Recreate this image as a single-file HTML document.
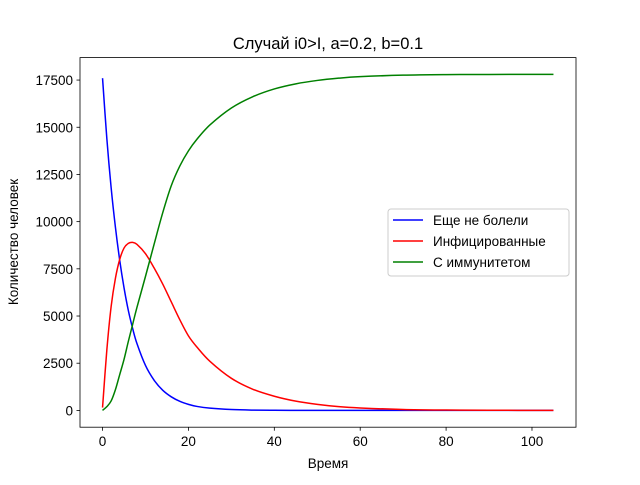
<!DOCTYPE html>
<html><head><meta charset="utf-8"><style>
body{margin:0;background:#fff}
svg{font-family:"Liberation Sans","DejaVu Sans",sans-serif}
</style></head><body>
<svg id="chart" width="640" height="480" viewBox="0 0 640 480">
<rect width="640" height="480" fill="#fff"/>
<text x="328" y="49" font-size="16.5" text-anchor="middle">Случай i0&gt;I, a=0.2, b=0.1</text>
<g id="series"></g>
<rect x="80" y="57.6" width="496" height="369.6" fill="none" stroke="#000" stroke-width="0.8"/>
<g id="xticks"></g><g id="yticks"></g>
<text x="328" y="468" font-size="13.5" text-anchor="middle">Время</text>
<text x="18" y="242" font-size="13.5" text-anchor="middle" transform="rotate(-90 18 242)">Количество человек</text>
<g>
<rect x="388" y="209" width="181" height="67" rx="3" fill="#fff" fill-opacity="0.8" stroke="#ccc"/>
<g><line x1="393" y1="220" x2="423" y2="220" stroke="blue" stroke-width="1.5"/><text x="433" y="225" font-size="13.5">Еще не болели</text></g>
<g><line x1="393" y1="241" x2="423" y2="241" stroke="red" stroke-width="1.5"/><text x="433" y="246" font-size="13.5">Инфицированные</text></g>
<g><line x1="393" y1="262" x2="423" y2="262" stroke="green" stroke-width="1.5"/><text x="433" y="267" font-size="13.5">С иммунитетом</text></g>
</g>
</svg>
<script>
const times=[0,1,2,3,4,5,6,7,8,10,12,14,16,18,20,22,25,30,35,40,45,50,55,60,70,80,90,105];
const susceptible=[17600,14400,11800,9700,7950,6500,5300,4350,3550,2380,1600,1070,720,480,320,210,120,45,15,5,2,0,0,0,0,0,0,0];
const infected=[150,3200,5500,7000,8000,8600,8850,8900,8800,8300,7550,6700,5750,4800,3950,3350,2600,1700,1120,750,490,320,200,130,50,20,8,0];
const recovered=[0,200,500,1100,1900,2700,3650,4550,5450,7100,8800,10460,11900,12950,13750,14370,15120,16020,16620,17030,17300,17480,17600,17680,17760,17790,17798,17800];
const xTicks=[0,20,40,60,80,100];
const yTicks=[0,2500,5000,7500,10000,12500,15000,17500];
const NS='http://www.w3.org/2000/svg';
function X(t){return 80+(t+5.25)*496/115.5;}
function Y(v){return 427.2-(v+890)*369.6/19580;}
function mk(tag,attrs,parent){const e=document.createElementNS(NS,tag);for(const k in attrs)e.setAttribute(k,attrs[k]);parent.appendChild(e);return e;}
const xt=document.getElementById('xticks'),yt=document.getElementById('yticks'),sg=document.getElementById('series');
xTicks.forEach(t=>{
 const l=mk('line',{x1:X(t),x2:X(t),y1:427.2,y2:430.7,stroke:'#000','stroke-width':0.8},xt);
 
 
 const s=mk('text',{x:X(t),y:446,'font-size':13.5,'text-anchor':'middle'},xt);s.textContent=t;
 
 
});
yTicks.forEach(v=>{
 const l=mk('line',{x1:76.5,x2:80,y1:Y(v),y2:Y(v),stroke:'#000','stroke-width':0.8},yt);
 
 
 const s=mk('text',{x:73,y:Y(v)+5,'font-size':13.5,'text-anchor':'end'},yt);s.textContent=v;
 
 
});
function path(vals,color,name){
 const p=times.map((t,i)=>[X(t),Y(vals[i])]);
 let d='M'+p[0][0]+','+p[0][1];
 for(let i=0;i<p.length-1;i++){
  const p0=p[Math.max(0,i-1)],p1=p[i],p2=p[i+1],p3=p[Math.min(p.length-1,i+2)];
  const c1=[p1[0]+(p2[0]-p0[0])/6,p1[1]+(p2[1]-p0[1])/6];
  const c2=[p2[0]-(p3[0]-p1[0])/6,p2[1]-(p3[1]-p1[1])/6];
  d+=' C'+c1+' '+c2+' '+p2;
 }
 const e=mk('path',{d:d,fill:'none',stroke:color,'stroke-width':1.5},sg);
 
 
}
path(susceptible,'blue','susceptible-line');
path(infected,'red','infected-line');
path(recovered,'green','recovered-line');
</script>
</body></html>
